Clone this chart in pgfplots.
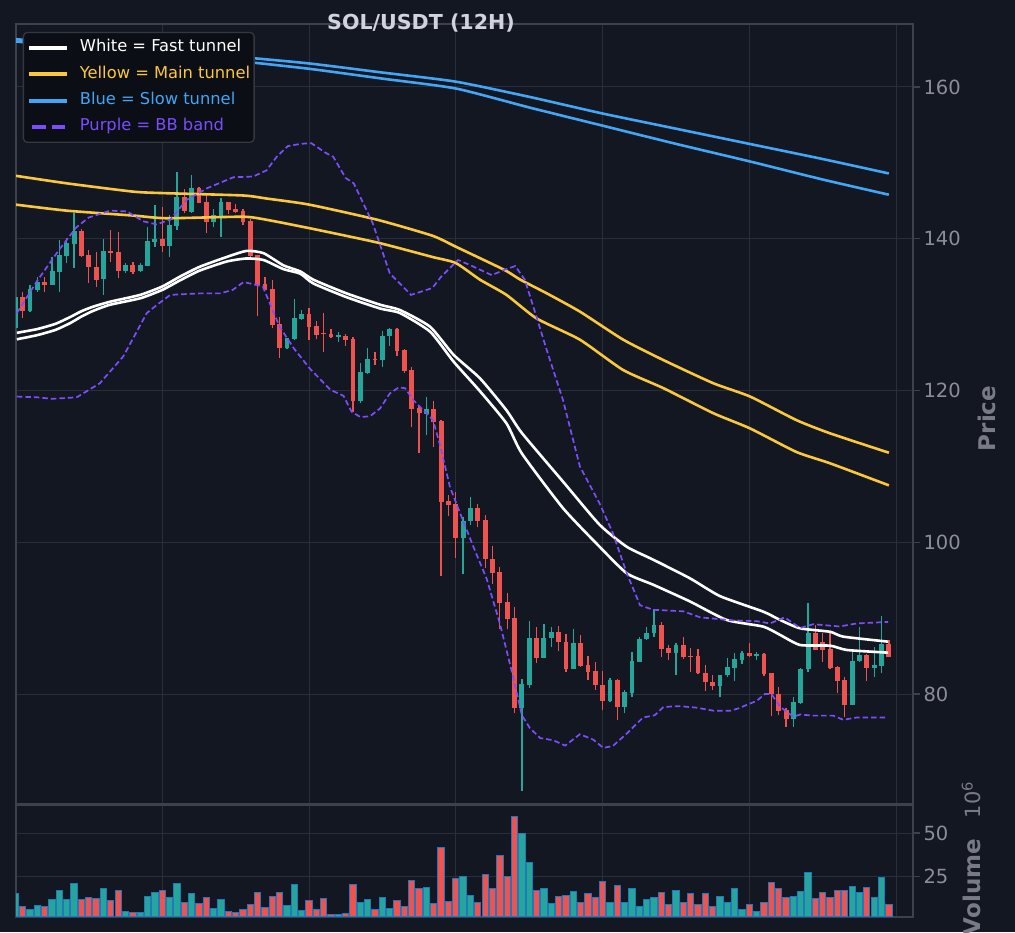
\documentclass[border=0pt]{standalone}
\usepackage{pgfplots}
\pgfplotsset{compat=1.18}
\usepackage{pgfplotstable}
\usepackage{fontspec}
\setmainfont{DejaVu Sans}
\definecolor{bg}{HTML}{131722}
\definecolor{gridc}{HTML}{2A2E39}
\definecolor{spine}{HTML}{3D414B}
\definecolor{tickc}{HTML}{8B8E96}
\definecolor{labc}{HTML}{787B86}
\definecolor{titlec}{HTML}{D1D4DC}
\definecolor{upc}{HTML}{26A69A}
\definecolor{dnc}{HTML}{EF5350}
\definecolor{voledge}{HTML}{1F78C1}
\definecolor{wht}{HTML}{FFFFFF}
\definecolor{yel}{HTML}{FBC83C}
\definecolor{blu}{HTML}{42A5F5}
\definecolor{pur}{HTML}{7C4DFF}
\definecolor{legbg}{HTML}{0B0E14}
\definecolor{legedge}{HTML}{33373F}

\pgfplotstableread{
i o h l c v
0 128.20 132.60 127.60 132.37 14.7
2 130.48 133.91 130.39 133.34 5.6
3 133.25 135.01 133.03 134.26 7.9
5 133.91 137.64 133.91 135.75 11.4
6 135.67 139.84 133.03 137.86 16.6
7 137.73 140.06 136.76 139.40 11.4
8 139.31 143.44 136.10 141.03 21.0
12 134.66 139.93 132.59 138.39 17.8
15 135.80 136.85 135.53 136.54 4.3
17 135.80 136.85 135.67 136.54 3.7
18 136.41 141.60 136.41 139.71 13.1
19 139.62 144.45 138.96 139.97 15.5
21 139.09 143.13 137.64 141.82 12.6
22 141.68 148.76 141.16 145.55 21.0
24 143.49 148.41 143.35 146.65 14.7
27 142.26 143.88 141.60 143.13 6.2
28 142.91 145.42 140.19 144.80 11.4
37 125.56 126.95 125.50 126.88 7.9
38 126.79 132.02 126.70 129.52 20.5
39 129.38 130.60 129.29 130.08 5.0
44 127.10 127.67 126.44 127.18 2.9
47 118.66 123.58 118.40 122.48 9.5
48 122.35 125.56 122.18 124.15 11.4
50 124.02 127.89 123.05 127.18 12.9
51 127.18 128.28 125.91 128.15 6.0
56 116.90 119.10 114.14 117.56 18.7
61 100.61 103.37 95.77 102.80 25.1
62 102.80 106.01 102.27 104.47 14.1
69 78.20 81.94 67.26 81.28 50.0
70 81.19 89.67 80.75 87.34 33.2
72 84.79 89.18 84.70 87.34 17.6
73 87.43 88.88 86.24 88.13 8.9
76 83.34 88.57 83.30 86.68 16.4
81 79.12 82.15 78.99 81.85 9.5
83 78.33 80.53 77.45 80.22 10.0
84 80.18 85.58 79.65 84.35 17.6
85 84.26 87.56 84.26 87.21 7.7
86 87.21 88.79 87.15 88.00 11.4
87 88.00 91.16 87.56 89.05 12.9
90 85.45 86.77 82.51 86.46 17.0
96 81.06 82.50 79.56 82.46 13.5
97 82.46 84.79 82.29 83.52 9.5
98 83.47 85.45 81.71 84.61 17.6
99 84.53 85.67 83.96 85.41 5.4
101 85.01 85.58 84.48 85.27 4.8
106 76.66 79.56 75.70 78.95 13.5
107 78.86 83.47 78.68 83.30 16.4
108 83.30 92.04 82.94 88.00 27.0
114 78.60 85.67 78.55 84.35 19.3
115 84.35 88.88 84.18 85.10 15.8
117 83.47 86.15 82.29 83.82 12.9
118 83.74 90.28 82.73 86.55 24.5
}\up

\pgfplotstableread{
i o h l c v
1 132.37 133.03 129.52 130.53 7.2
4 134.35 135.01 133.03 133.91 7.2
9 141.03 141.29 137.64 137.73 11.4
10 137.82 138.52 134.22 136.32 12.4
11 136.28 138.30 133.69 134.57 12.0
13 138.39 141.16 136.98 138.17 11.2
14 138.21 140.94 134.79 135.80 16.6
16 136.50 136.98 135.31 135.67 4.1
20 139.97 144.23 138.21 139.09 16.6
23 145.55 146.52 143.44 143.66 10.0
25 146.65 146.78 144.67 144.76 8.9
26 144.89 145.77 140.72 142.26 12.9
29 144.80 144.89 143.22 143.79 4.3
30 143.92 144.58 143.35 143.49 4.1
31 143.66 143.88 141.82 142.26 5.4
32 142.34 142.56 137.60 137.73 8.3
33 137.86 137.90 129.82 133.91 15.8
34 134.04 135.01 133.20 133.25 6.6
35 133.34 134.57 128.20 128.64 13.5
36 128.77 129.74 124.25 125.56 15.8
40 130.08 130.83 126.66 128.41 10.8
41 128.50 129.20 126.74 127.31 5.6
42 127.47 130.17 125.12 127.40 11.8
43 127.44 128.06 126.88 127.10 2.9
45 127.23 127.45 125.87 126.66 3.5
46 126.79 127.01 117.21 118.66 20.5
49 124.15 125.12 123.36 124.02 5.4
52 128.15 128.20 124.55 125.21 10.8
53 125.34 125.43 122.35 122.57 7.2
54 122.70 123.05 115.23 117.56 22.8
55 117.65 117.96 111.72 116.99 17.6
57 117.56 118.66 112.60 115.89 8.9
58 115.98 116.11 95.55 105.35 41.9
59 105.48 106.23 103.46 104.91 10.6
60 105.04 106.67 97.88 100.61 23.9
63 104.47 105.04 102.05 102.85 10.0
64 102.93 103.59 96.56 97.75 26.2
65 97.75 99.55 94.50 95.90 17.6
66 96.04 96.70 88.53 92.04 37.3
67 92.08 93.36 88.53 89.84 24.9
68 89.97 91.42 77.45 78.20 59.8
71 87.34 88.88 84.13 84.79 17.0
74 88.13 89.01 85.67 86.90 13.5
75 86.90 87.87 82.86 83.34 14.1
77 86.68 87.78 83.60 83.74 10.0
78 83.78 85.01 81.85 82.94 14.7
79 83.03 84.26 80.53 81.14 12.4
80 81.19 83.08 77.89 79.12 22.2
82 81.85 81.98 76.58 78.33 19.9
88 89.09 89.53 84.83 85.98 15.8
89 86.06 86.46 84.48 85.45 8.7
91 86.46 87.56 84.61 84.88 9.5
92 84.96 86.02 82.95 84.92 14.7
93 84.96 85.93 82.59 82.73 8.3
94 82.73 83.82 80.44 81.54 14.7
95 81.58 82.51 80.53 81.06 7.2
100 85.41 86.68 84.92 85.01 8.3
102 85.27 85.36 82.37 82.64 9.5
103 82.73 82.80 77.10 80.00 21.6
104 80.00 80.97 77.23 77.80 17.6
105 77.89 78.11 75.70 76.66 12.9
109 88.00 89.09 85.80 85.84 11.8
110 86.81 88.00 84.26 85.84 15.3
111 85.93 88.00 83.25 83.43 12.9
112 83.52 83.69 80.09 81.76 17.0
113 81.85 82.20 77.02 78.60 17.0
116 85.10 85.27 81.76 83.47 18.2
119 86.55 87.12 84.83 84.92 8.3
}\down

\pgfplotsset{
  panel/.style={
    scale only axis, width=897pt,
    xmin=0.08, xmax=122.29,
    axis background/.style={fill=bg},
    axis line style={draw=spine, line width=2.3pt},
    grid=major, major grid style={draw=gridc, line width=1pt},
    xtick={20,40,...,120}, xticklabels={}, xtick style={draw=none},
    ytick pos=right, yticklabel pos=right, tick align=outside,
    major tick length=7pt,
    ytick style={draw=spine, line width=1.5pt},
    /pgf/number format/assume math mode=true,
    yticklabel style={font=\fontsize{19.5}{20}\selectfont, text=tickc},
  },
  wick/.style={color=#1, only marks, mark=none, mark size=0pt,
    mark options={draw=none, fill=none}, forget plot,
    error bars/.cd, y dir=plus, y explicit, error mark=none,
    error bar style={line width=1.3pt, color=#1, line cap=butt}},
  body/.style={color=#1, only marks, mark=none, mark size=0pt,
    mark options={draw=none, fill=none}, forget plot,
    error bars/.cd, y dir=plus, y explicit, error mark=none,
    error bar style={line width=4.8pt, color=#1, line cap=butt}},
  legW/.style={legend image code/.code={\draw[wht, line width=4pt] (0pt,0pt) -- (37.5pt,0pt);}},
  legY/.style={legend image code/.code={\draw[yel, line width=4pt] (0pt,0pt) -- (37.5pt,0pt);}},
  legB/.style={legend image code/.code={\draw[blu, line width=4pt] (0pt,0pt) -- (37.5pt,0pt);}},
  legP/.style={legend image code/.code={\draw[pur, line width=4pt, dash pattern=on 14pt off 6.5pt] (2.5pt,0pt) -- (35.5pt,0pt);}},
}

\begin{document}
\begin{tikzpicture}
\fill[bg] (0pt,0pt) rectangle (1015pt,932pt);
\path[use as bounding box] (0pt,0pt) rectangle (1015pt,932pt);

\begin{axis}[panel, at={(16pt,127.5pt)}, anchor=south west, height=780.5pt,
  ymin=65.44, ymax=168.3, ytick={80,100,120,140,160},
  legend cell align=left,
  legend style={at={(axis description cs:0.0075,0.990)}, anchor=north west,
    fill=legbg, draw=legedge, line width=1.3pt, rounded corners=4pt,
    font=\fontsize{16.3}{19}\selectfont, inner xsep=4pt, inner ysep=7.5pt,
    row sep=10.3pt, column sep=11pt,
    nodes={inner sep=0pt, text height=12pt, text depth=4pt}},
]
% candles: wick from low to high, body from min(open,close) to max(open,close)
\addplot[wick=upc] table[x=i, y=l, y error expr={\thisrow{h}-\thisrow{l}}] {\up};
\addplot[wick=dnc] table[x=i, y=l, y error expr={\thisrow{h}-\thisrow{l}}] {\down};
\addplot[body=upc] table[x=i, y=o, y error expr={max(\thisrow{c}-\thisrow{o},0.15)}] {\up};
\addplot[body=dnc] table[x=i, y=c, y error expr={max(\thisrow{o}-\thisrow{c},0.15)}] {\down};

% fast tunnel (white)
\addplot[wht, line width=2.6pt, smooth, tension=0.35, legW]
 coordinates {(0.2,127.6) (3,128.1) (5.5,128.8) (7.5,129.7) (9,130.45) (10.6,131.05) (12.9,131.7) (17,132.6) (20,133.7) (22.4,135.0) (25.1,136.3) (28.8,137.6) (31.5,138.4) (33.8,138.1) (36.5,136.5) (38.8,135.7) (40.6,134.6) (45.1,132.8) (49.7,131.3) (52.4,130.6) (56.5,128.4) (59.7,124.7) (63.3,121.6) (66.9,117.4) (69,114.4) (74.6,108.0) (79.6,102.3) (83.3,99.4) (86.9,97.7) (91.9,95.25) (96.0,92.9) (101.9,90.85) (104.2,89.75) (106.9,88.66) (111,88.2) (112.8,87.56) (118.9,86.9)};
\addlegendentry{\textcolor{wht}{White = Fast tunnel}}
\addplot[wht, line width=2.6pt, smooth, tension=0.35, forget plot]
 coordinates {(0.2,126.75) (3,127.3) (5.5,128.0) (7.5,128.9) (9,129.75) (10.6,130.5) (12.9,131.3) (17,132.15) (20,133.25) (22.4,134.5) (25.1,135.8) (28.8,137.0) (31.5,137.4) (33.8,137.2) (36.5,136.0) (38.8,135.4) (40.6,134.1) (45.1,132.3) (49.7,130.8) (52.4,130.2) (56.5,127.75) (59.7,123.8) (63.3,119.9) (66.9,115.67) (69,111.7) (74.6,104.5) (79.6,99.4) (83.3,95.9) (86.9,94.4) (91.9,92.2) (96.9,89.76) (101.9,88.88) (104.2,87.78) (106.9,86.46) (111,86.37) (113.3,85.8) (118.9,85.45)};

% main tunnel (yellow)
\addplot[yel, line width=2.6pt, smooth, tension=0.35, legY]
 coordinates {(0,148.3) (7,147.3) (16.1,146.2) (20.6,146.0) (31,145.7) (34.2,145.3) (40,144.5) (49.3,142.5) (56.8,140.4) (60,138.95) (66.6,135.9) (68.8,134.6) (72.4,132.8) (76.9,130.4) (82.8,126.7) (88.3,124.0) (95.1,120.95) (100.1,119.2) (106.4,116.1) (111,114.35) (119,111.8)};
\addlegendentry{\textcolor{yel}{Yellow = Main tunnel}}
\addplot[yel, line width=2.6pt, smooth, tension=0.35, forget plot]
 coordinates {(0,144.5) (7,143.7) (16.1,143.05) (20.6,142.7) (31,142.9) (34.2,142.5) (40,141.4) (49.3,139.5) (56.8,137.6) (60,136.8) (63.3,134.6) (66.9,132.6) (71,129.5) (76.9,126.7) (82.8,122.7) (88.3,120.3) (95.1,117.0) (100.1,115.0) (106.4,111.9) (111,110.4) (119,107.5)};

% slow tunnel (blue)
\addplot[blu, line width=2.6pt, smooth, tension=0.35, legB]
 coordinates {(0,166.3) (10,165.5) (20,164.8) (30,164.0) (40,163.1) (50,161.9) (60,160.7) (70,158.7) (80,156.5) (90,154.5) (100,152.5) (110,150.5) (119,148.6)};
\addlegendentry{\textcolor{blu}{Blue = Slow tunnel}}
\addplot[blu, line width=2.6pt, smooth, tension=0.35, forget plot]
 coordinates {(0,166.0) (10,165.1) (20,164.3) (30,163.45) (40,162.4) (50,161.1) (60,159.8) (70,157.3) (80,154.9) (90,152.5) (100,150.2) (110,147.8) (119,145.8)};

% BB band (purple dashed)
\addplot[pur, line width=1.7pt, dash pattern=on 5.5pt off 3pt, legP]
 coordinates {(0.2,130.2) (3,134.5) (6,138.6) (8.3,141.5) (10,142.8) (12.9,143.7) (15.2,143.6) (17.4,142.3) (19.2,141.9) (21.1,142.5) (23.3,145.1) (26.1,146.65) (29.7,148.1) (32.4,148.2) (34.2,149.0) (35.6,150.8) (37.1,152.2) (38.8,152.5) (40.3,152.6) (42.3,151.3) (43.3,150.8) (45,148.0) (46.1,147.3) (48.7,142.0) (51,135.45) (53.9,132.6) (56.8,133.5) (58,135.0) (60.3,137.2) (62,136.5) (64.9,135.2) (66.6,135.9) (68.1,136.4) (69.4,134.6) (71,129.7) (72.4,125.3) (74.6,118.75) (76.9,110.0) (79.6,105.1) (81.4,101.2) (83.3,95.9) (85.1,91.7) (86.9,91.1) (91,90.9) (93.3,90.1) (97.8,89.7) (101,89.6) (102.8,89.3) (104.8,90.1) (106.9,88.7) (108.7,89.2) (112.3,88.9) (114.6,89.3) (118.9,89.5)};
\addlegendentry{\textcolor{pur}{Purple = BB band}}
\addplot[pur, line width=1.7pt, dash pattern=on 5.5pt off 3pt, forget plot]
 coordinates {(0.2,119.2) (3,119.1) (5,118.9) (8.35,119.1) (11.5,120.95) (14.7,124.5) (17.9,130.2) (19.3,131.3) (21.1,132.6) (25.1,132.8) (27.9,132.8) (29.6,133.25) (31.1,134.3) (33.7,133.7) (36,128.4) (37.9,125.6) (40.1,122.9) (42.9,120.1) (44.7,119.3) (45.8,117.2) (47,116.5) (48.3,116.6) (49.7,117.65) (51,119.6) (52.2,120.4) (53.1,120.3) (54.2,118.75) (56,117.0) (56.9,116.1) (57.8,113.0) (59.2,107.3) (60.6,103.8) (62.4,99.4) (64.2,95.2) (66,89.3) (67.8,82.3) (69,77.2) (70.1,75.5) (71.5,74.2) (73.3,73.9) (74.9,73.2) (76.9,74.7) (78.7,74.0) (80.1,72.9) (81.4,73.15) (83.3,74.8) (85.5,76.9) (87.1,77.2) (88.3,78.3) (90.5,78.4) (92.8,78.2) (95.1,77.8) (97.4,77.8) (98.5,78.1) (99.6,78.55) (101,79.1) (102.1,80.0) (103,80.0) (104.2,78.3) (106,77.0) (106.9,77.3) (108.7,77.15) (111.4,77.15) (112.8,76.6) (114.6,76.9) (118.9,76.9)};
\end{axis}

\begin{axis}[panel, at={(16pt,15.3pt)}, anchor=south west, height=111.7pt,
  ymin=1.5, ymax=66.4, ytick={25,50}]
\addplot[ybar, bar width=0.86, bar shift=0pt, fill=upc, draw=voledge, line width=1pt] table[x=i, y=v] {\up};
\addplot[ybar, bar width=0.86, bar shift=0pt, fill=dnc, draw=voledge, line width=1pt] table[x=i, y=v] {\down};
\end{axis}

\node[font=\bfseries\fontsize{20.6}{22}\selectfont, text=titlec] at (421pt,908.5pt) {SOL/USDT (12H)};
\node[rotate=90, font=\bfseries\fontsize{23}{24}\selectfont, text=labc] at (987pt,513.5pt) {Price};
\node[rotate=90, font=\bfseries\fontsize{23}{24}\selectfont, text=labc] at (972pt,45pt) {Volume};
\node[rotate=90, font=\fontsize{21}{22}\selectfont, text=labc] at (971pt,132pt) {10\textsuperscript{6}};
\end{tikzpicture}
\end{document}
